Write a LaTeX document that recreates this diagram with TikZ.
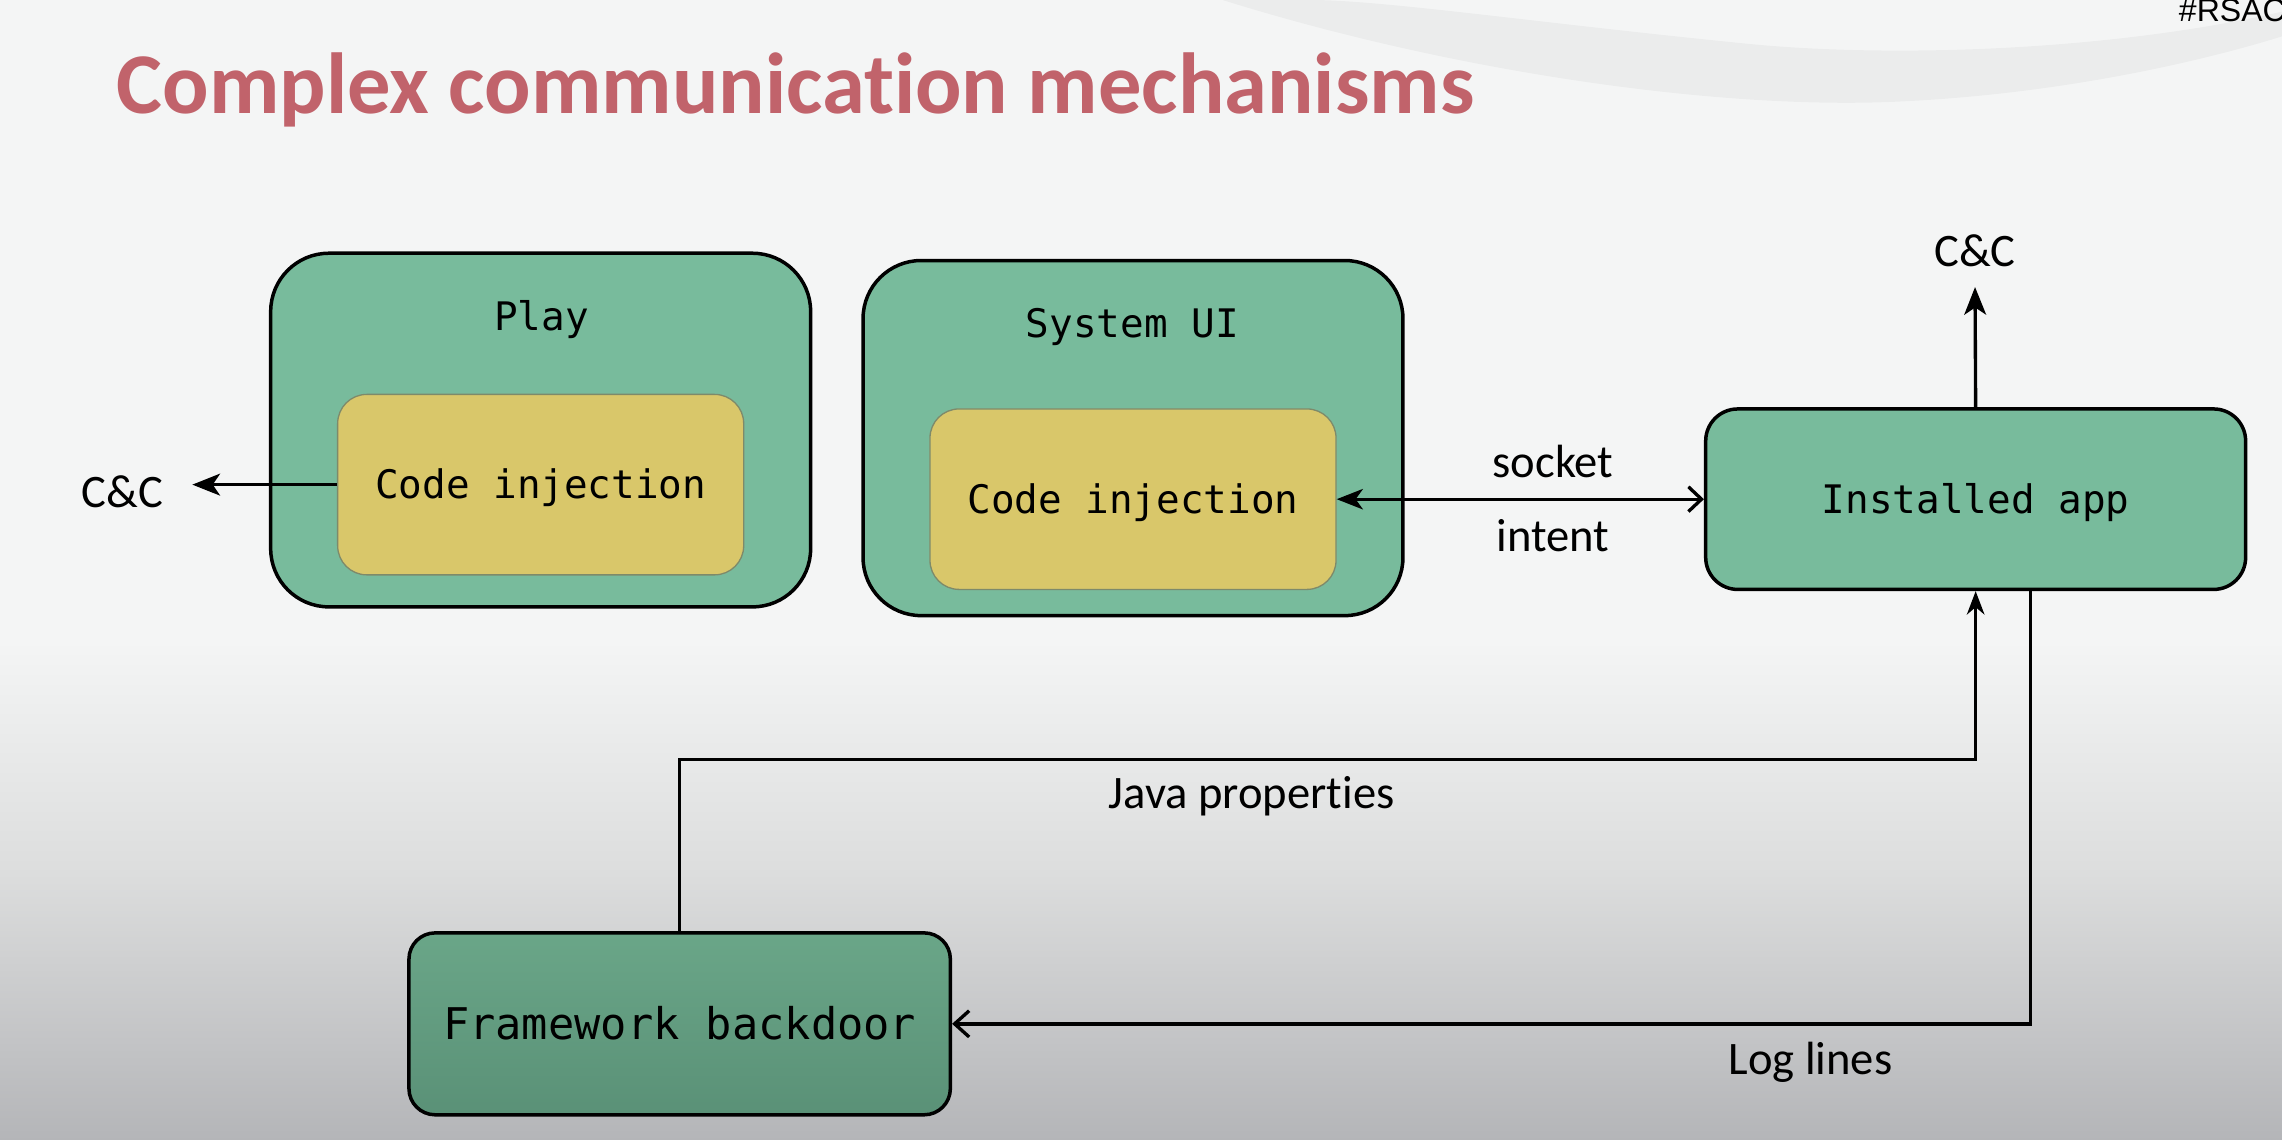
\documentclass[tikz,border=0pt]{standalone}
\usepackage{fontspec}
\setmainfont[Ligatures=NoCommon]{Carlito}
\newfontfamily\monof{DejaVu Sans Mono}
\newfontfamily\arialf{Liberation Sans}
\usetikzlibrary{arrows.meta}
\definecolor{boxgreen}{HTML}{78BB9C}
\definecolor{boxyellow}{HTML}{D9C76A}
\definecolor{innerline}{HTML}{7E8A6A}
\definecolor{fwtop}{HTML}{6AA688}
\definecolor{fwbot}{HTML}{5A9177}
\definecolor{titlered}{HTML}{C1636B}
\definecolor{bgtop}{HTML}{F4F5F5}
\definecolor{bgmid}{HTML}{DCDDDD}
\definecolor{bgbot}{HTML}{B4B5B8}
\begin{document}
\begin{tikzpicture}[x=1pt,y=-1pt,
  outerbox/.style={draw=black,line width=2.4pt,fill=boxgreen,rounded corners=40pt,inner sep=0pt},
  innerbox/.style={draw=innerline,line width=0.9pt,fill=boxyellow,rounded corners=20pt,inner sep=0pt,text=black,font=\monof\fontsize{27}{32}\selectfont,text height=19.7pt,text depth=0pt},
  appbox/.style={draw=black,line width=2.4pt,fill=boxgreen,rounded corners=22pt,inner sep=0pt,text=black,font=\monof\fontsize{27}{32}\selectfont,text height=19.7pt,text depth=0pt},
  fwbox/.style={draw=black,line width=2.4pt,top color=fwtop,bottom color=fwbot,rounded corners=18pt,inner sep=0pt,text=black,font=\monof\fontsize{30}{36}\selectfont,text height=21.9pt,text depth=0pt},
  mono/.style={inner sep=0pt,text=black,font=\monof\fontsize{27}{32}\selectfont,text height=19.7pt,text depth=0pt},
  lbl/.style={inner sep=0pt,text=black,font=\fontsize{32}{38}\selectfont},
  conn/.style={line width=2.3pt,draw=black},
  fillhead/.style={-{Stealth[length=19pt,width=15pt,inset=5pt]}},
  barbhead/.style={-{Straight Barb[length=10pt,width=18pt]}}
]
\path[use as bounding box] (0,0) rectangle (1568,783);
\clip (0,0) rectangle (1568,783);
% background
\fill[bgtop] (0,0) rectangle (1568,783);
\shade[top color=bgtop,bottom color=bgmid] (0,440) rectangle (1568,601);
\shade[top color=bgmid,bottom color=bgbot] (0,600) rectangle (1568,784);
\fill[black,opacity=0.035] (840,0) .. controls (1000,50) and (1180,75) .. (1300,70) .. controls (1420,65) and (1520,40) .. (1568,25) -- (1568,8) .. controls (1450,35) and (1300,40) .. (1200,30) .. controls (1050,15) and (950,0) .. (900,0) -- cycle;

% title
\node[anchor=base west,inner sep=0pt,text=titlered,font=\bfseries\fontsize{59.5}{70}\selectfont] (title) at (80,78) {Complex communication mechanisms};
\node[anchor=base west,inner sep=0pt,text=black,font=\arialf\fontsize{22}{26}\selectfont] (rsac) at (1497,15) {\#RSAC};

% boxes
\node[outerbox,minimum width=371pt,minimum height=243pt] (play) at (371.5,295.5) {};
\node[mono] (playlbl) at (372,217) {Play};
\node[innerbox,minimum width=279pt,minimum height=124pt] (playinj) at (371.5,333) {Code injection};

\node[outerbox,minimum width=371pt,minimum height=244pt] (sysui) at (778.5,301) {};
\node[mono] (syslbl) at (778,222) {System UI};
\node[innerbox,minimum width=279pt,minimum height=124pt] (sysinj) at (778.5,343) {Code injection};

\node[appbox,minimum width=371pt,minimum height=124pt] (app) at (1357.5,343) {Installed app};
\node[fwbox,minimum width=372pt,minimum height=125pt] (fw) at (467,703.5) {Framework backdoor};

% labels
\node[lbl] (ccleft) at (84,338) {C\&C};
\node[lbl] (cctop) at (1357,172) {C\&C};
\node[lbl] (socket) at (1067,317) {socket};
\node[lbl] (intent) at (1067,368) {intent};
\node[lbl] (java) at (860,547) {Java properties};
\node[lbl] (loglines) at (1244,730) {Log lines};

% connectors
\draw[conn,fillhead,shorten >=20pt] (playinj.west) -- (playinj.west -| ccleft.east);
\draw[conn,{Stealth[length=18pt,width=14pt,inset=5pt]}-{Straight Barb[length=9pt,width=17pt]}] (sysinj.east) -- (app.west);
\draw[conn,fillhead,shorten >=14pt] (app.north) -- (cctop.south);
\coordinate (jbend) at (1357.5,522);
\draw[conn,-{Stealth[length=16pt,width=12pt,inset=5pt]}] (fw.north) |- (jbend) -- (app.south);
\draw[conn,barbhead] ([xshift=37.5pt]app.south) |- (fw.east);
\end{tikzpicture}
\end{document}
